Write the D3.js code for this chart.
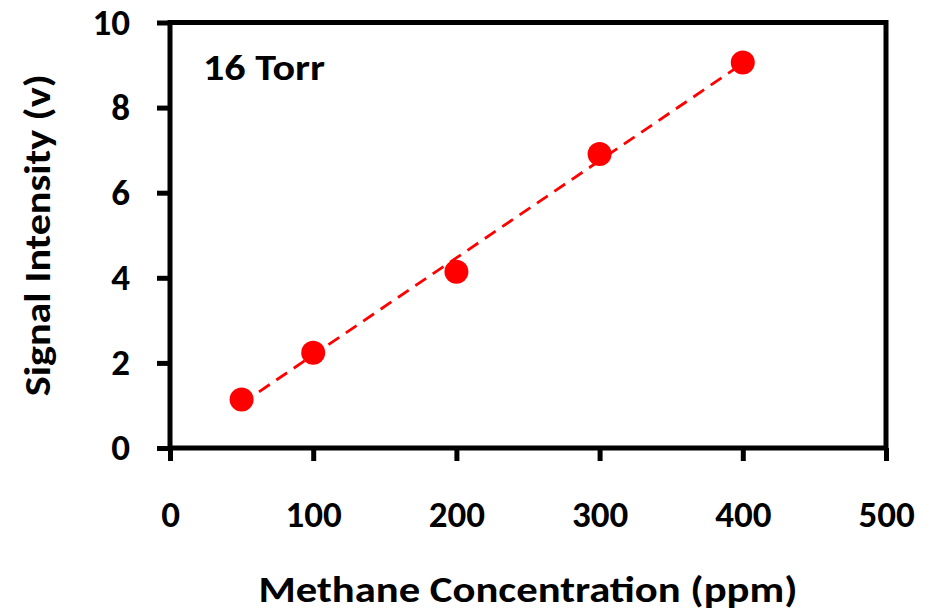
<!DOCTYPE html>
<html lang="en">
<head>
<meta charset="UTF-8">
<title>Methane signal</title>
<script src="https://cdn.jsdelivr.net/npm/d3@7"></script>
<style>
  body { margin: 0; background: #fff; }
  text { font-family: Carlito, Calibri, Lato, sans-serif; font-weight: 700; fill: #000; }
</style>
</head>
<body>
<div id="chart"></div>
<script>
// data
var concentration = [50, 100, 200, 300, 400];      // ppm
var signal = [1.14, 2.24, 4.14, 6.91, 9.06];        // volts
var xTicks = [0, 100, 200, 300, 400, 500];
var yTicks = [0, 2, 4, 6, 8, 10];
var label = "16 Torr";

var W = 937, H = 612;
var margin = {top: 22.5, right: 51, bottom: 164, left: 170},
    width = W - margin.left - margin.right,
    height = H - margin.top - margin.bottom;

var svg = d3.select("#chart").append("svg")
    .attr("width", W).attr("height", H)
  .append("g")
    .attr("transform", "translate(" + margin.left + "," + margin.top + ")");

var x = d3.scaleLinear().domain([0, 500]).range([0, width]);
var y = d3.scaleLinear().domain([0, 10]).range([height, 0]);

// frame
svg.append("rect")
    .attr("width", width).attr("height", height)
    .attr("fill", "none").attr("stroke", "#000").attr("stroke-width", 5);

// axes
var xAxis = svg.append("g")
    .attr("transform", "translate(0," + height + ")")
    .call(d3.axisBottom(x).tickValues(xTicks).tickSize(13).tickPadding(40));
var yAxis = svg.append("g")
    .call(d3.axisLeft(y).tickValues(yTicks).tickSize(13).tickPadding(27));

[xAxis, yAxis].forEach(function(a) {
  a.attr("font-family", null).attr("font-size", null);
  a.select(".domain").remove();
  a.selectAll(".tick line").attr("stroke", "#000").attr("stroke-width", 5);
  a.selectAll(".tick text").style("font-size", "37px");
});

// linear trendline (least squares from the points)
var mx = d3.mean(concentration), my = d3.mean(signal),
    sxy = d3.sum(concentration, function(c, i) { return (c - mx) * (signal[i] - my); }),
    sxx = d3.sum(concentration, function(c) { return (c - mx) * (c - mx); }),
    slope = sxy / sxx, icpt = my - slope * mx;
var ends = [d3.min(concentration), d3.max(concentration)];
svg.append("path")
    .datum(ends)
    .attr("fill", "none")
    .attr("stroke", "#ff0000")
    .attr("stroke-width", 2.8)
    .attr("stroke-dasharray", "13,8")
    .attr("d", d3.line()
      .x(function(d) { return x(d); })
      .y(function(d) { return y(slope * d + icpt); }));

// points
svg.selectAll(".pt")
    .data(concentration)
  .enter().append("circle")
    .attr("cx", function(d) { return x(d); })
    .attr("cy", function(d, i) { return y(signal[i]); })
    .attr("r", 12)
    .attr("fill", "#ff0000");

// pressure label
svg.append("text")
    .attr("x", 33).attr("y", 57.5)
    .attr("textLength", 122).attr("lengthAdjust", "spacingAndGlyphs")
    .style("font-size", "37px")
    .text(label);

// axis titles
svg.append("text")
    .attr("x", width / 2).attr("y", height + 154)
    .attr("text-anchor", "middle")
    .attr("textLength", 539).attr("lengthAdjust", "spacingAndGlyphs")
    .style("font-size", "37px")
    .text("Methane Concentration (ppm)");

svg.append("text")
    .attr("transform", "translate(" + (-120) + "," + (height / 2) + ") rotate(-90)")
    .attr("text-anchor", "middle")
    .attr("textLength", 322).attr("lengthAdjust", "spacingAndGlyphs")
    .style("font-size", "37px")
    .text("Signal Intensity (v)");
</script>
</body>
</html>
